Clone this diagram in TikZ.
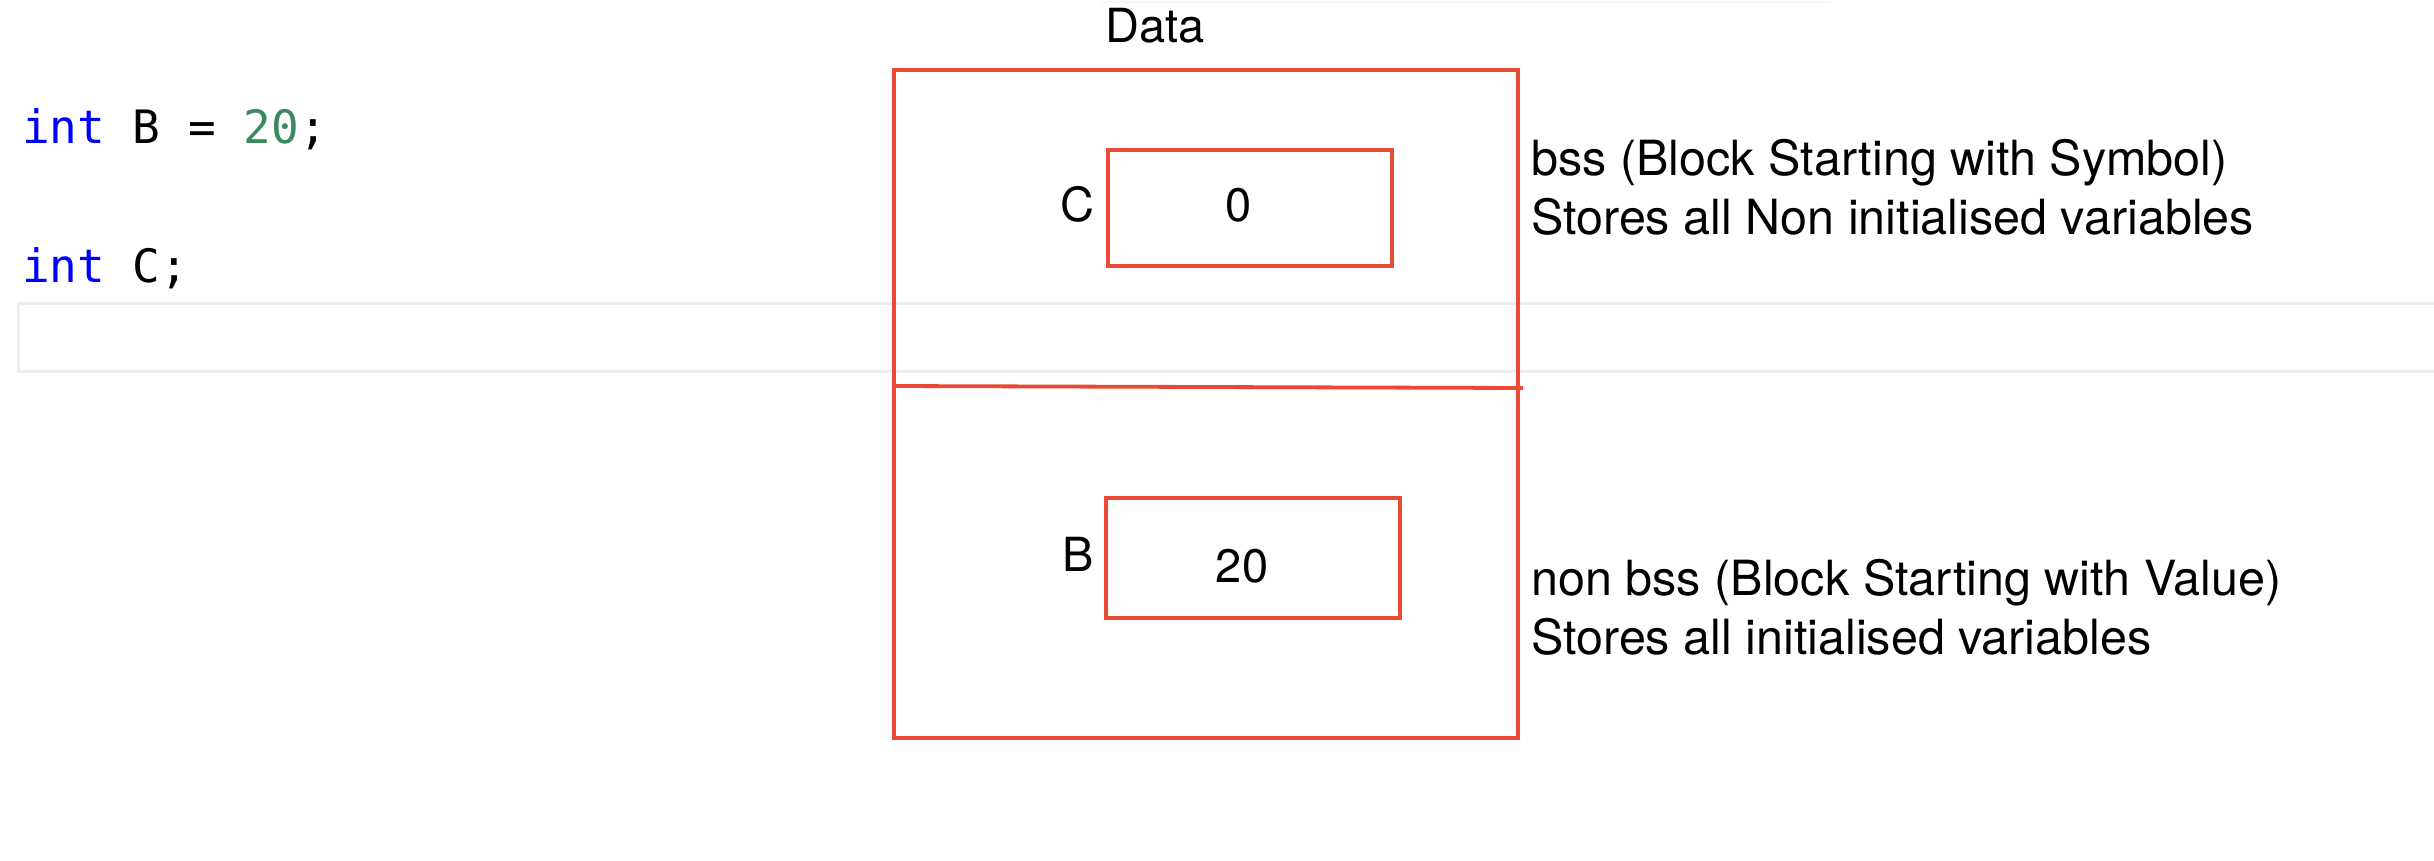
\documentclass[tikz,border=0pt]{standalone}
\usepackage{fontspec}
\setmainfont{TeX Gyre Heros}
\newfontfamily\codefont{DejaVu Sans Mono}
\definecolor{boxred}{HTML}{E84A36}
\definecolor{kwblue}{HTML}{0000FF}
\definecolor{numgreen}{HTML}{3A8A5E}
\definecolor{lightline}{HTML}{EEEEEE}
\definecolor{faintline}{HTML}{F6F6F6}
\tikzset{
  redbox/.style={draw=boxred, line width=3.8pt, inner sep=0pt, rectangle},
  lbl/.style={inner sep=0pt, font=\fontsize{47}{56}\selectfont},
  note/.style={inner sep=0pt, anchor=base west, font=\fontsize{48.5}{58}\selectfont},
  code/.style={inner sep=0pt, anchor=base west, font=\codefont\fontsize{46}{55}\selectfont},
}
\begin{document}
\begin{tikzpicture}[x=1pt,y=-1pt]
\useasboundingbox (0,0) rectangle (2434,860);
% editor highlight line and faint top line
\draw[lightline, line width=3pt] (18,303) rectangle (2445,371);
\draw[faintline, line width=2pt] (1102,1.5) -- (1830,1.5);
% code
\node[code] (codeB) at (22,143) {\textcolor{kwblue}{int} B = \textcolor{numgreen}{20};};
\node[code] (codeC) at (22,282) {\textcolor{kwblue}{int} C;};
% data segment
\node[lbl, anchor=base] (data) at (1155,42) {Data};
\node[redbox, minimum width=624pt, minimum height=668pt] (outer) at (1206,404) {};
\coordinate (dl) at (894,386);
\coordinate (dr) at (1523,388);
\draw[boxred, line width=3.8pt] (dl) -- (dr);
% C cell
\node[redbox, minimum width=284pt, minimum height=116pt] (cbox) at (1250,208) {};
\node[lbl, anchor=base] (clbl) at (1077,221) {C};
\node[lbl, anchor=base] (cval) at (1239,221) {0};
% B cell
\node[redbox, minimum width=294pt, minimum height=120pt] (bbox) at (1253,558) {};
\node[lbl, anchor=base] (blbl) at (1078,571) {B};
\node[lbl, anchor=base] (bval) at (1242,582) {20};
% notes
\node[note] (bss1) at (1531,175) {bss (Block Starting with Symbol)};
\node[note] (bss2) at (1531,234) {Stores all Non initialised variables};
\node[note] (nbss1) at (1531,595) {non bss (Block Starting with Value)};
\node[note] (nbss2) at (1531,654) {Stores all initialised variables};
\end{tikzpicture}
\end{document}
